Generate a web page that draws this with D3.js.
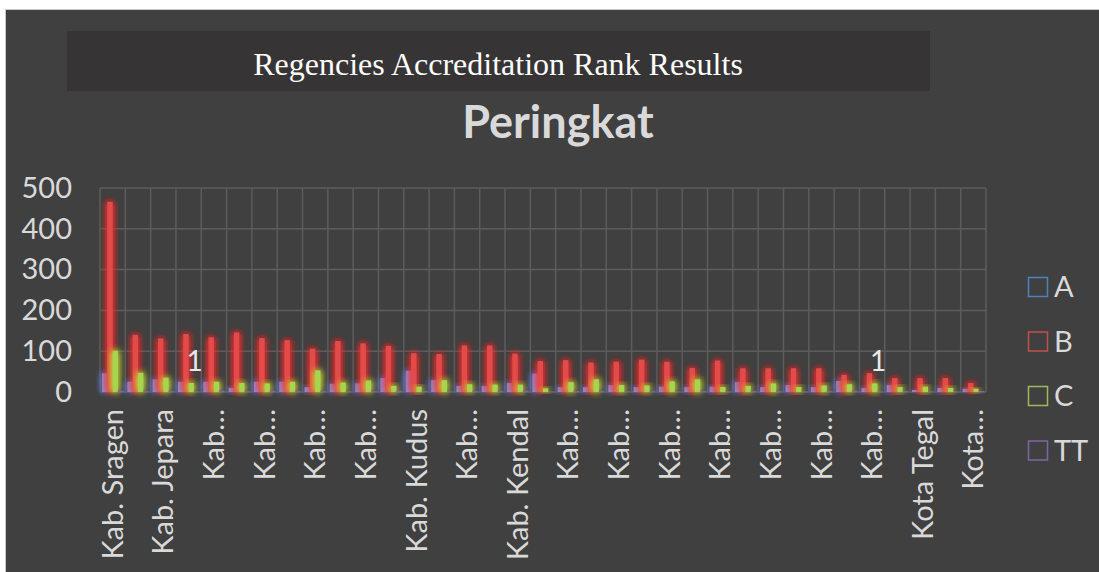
<!DOCTYPE html>
<html>
<head>
<meta charset="utf-8">
<script src="https://cdn.jsdelivr.net/npm/d3@7"></script>
<style>
  html, body { margin: 0; padding: 0; background: #fff; }
  svg { display: block; }
</style>
</head>
<body>
<div id="chart"></div>
<script>
// regencies, in the order of the chart
const regencies = [
  'Kab. Sragen', 'Kab. Klaten', 'Kab. Jepara', 'Kab. Pati', 'Kab. Grobogan',
  'Kab. Demak', 'Kab. Banyumas', 'Kab. Blora', 'Kab. Boyolali', 'Kab. Batang',
  'Kab. Cilacap', 'Kab. Brebes', 'Kab. Kudus', 'Kab. Tegal', 'Kab. Kebumen',
  'Kab. Rembang', 'Kab. Kendal', 'Kab. Wonogiri', 'Kab. Magelang', 'Kab. Pemalang',
  'Kab. Sukoharjo', 'Kab. Semarang', 'Kab. Purworejo', 'Kab. Karanganyar', 'Kab. Wonosobo',
  'Kab. Pekalongan', 'Kab. Temanggung', 'Kota Salatiga', 'Kab. Purbalingga', 'Kota Magelang',
  'Kab. Banjarnegara', 'Kota Pekalongan', 'Kota Tegal', 'Kota Semarang', 'Kota Surakarta'
];
const seriesNames = ['A', 'B', 'C', 'TT'];
const rankA  = [46, 25, 31, 25, 25, 10, 25, 25, 12, 20, 21, 34, 52, 29, 15, 15, 22, 45, 12, 12, 17, 12, 13, 12, 13, 24, 12, 17, 12, 27, 10, 17, 5, 10, 8];
const rankB  = [466, 140, 131, 142, 134, 146, 132, 127, 106, 125, 119, 113, 95, 93, 114, 114, 94, 76, 78, 72, 74, 79, 74, 59, 77, 58, 58, 58, 58, 42, 46, 34, 34, 34, 22];
const rankC  = [101, 47, 35, 22, 25, 22, 21, 25, 53, 23, 28, 15, 13, 29, 19, 18, 18, 9, 24, 31, 17, 16, 26, 31, 12, 15, 21, 12, 16, 19, 21, 12, 13, 10, 8];
const rankTT = [3, 2, 2, 1, 3, 2, 3, 2, 2, 1, 2, 3, 2, 1, 2, 2, 3, 1, 2, 2, 1, 2, 1, 2, 1, 2, 2, 1, 2, 3, 1, 2, 1, 1, 2];
const labelledTT = ['Kab. Pati', 'Kab. Banjarnegara'];
const yTicks = [0, 100, 200, 300, 400, 500];

const width = 1099, height = 572;
const plot = { left: 100, right: 986, top: 188, bottom: 392 };
const colors = { A: '#8d8fd0', B: '#e24c4a', C: '#a6d650', TT: '#8a5fb8' };
const glows = { A: '#5b78d8', B: '#ff2a2a', C: '#c8e030', TT: '#9a55e0' };
const legendStroke = { A: '#4f81bd', B: '#c0504d', C: '#9bbb59', TT: '#8064a2' };
const textColor = '#d9d9d9';
const font = 'Lato, "Open Sans", sans-serif';

const values = { A: rankA, B: rankB, C: rankC, TT: rankTT };

const svg = d3.select('#chart').append('svg')
  .attr('width', width)
  .attr('height', height);

// glow filters
const defs = svg.append('defs');
seriesNames.forEach(s => {
  const f = defs.append('filter')
    .attr('id', 'glow-' + s)
    .attr('x', '-200%').attr('y', '-50%')
    .attr('width', '500%').attr('height', '200%');
  f.append('feFlood').attr('flood-color', glows[s]).attr('result', 'c');
  f.append('feComposite').attr('in', 'c').attr('in2', 'SourceAlpha').attr('operator', 'in').attr('result', 'cs');
  f.append('feGaussianBlur').attr('in', 'cs').attr('stdDeviation', 3.5).attr('result', 'blur');
  const m = f.append('feMerge');
  m.append('feMergeNode').attr('in', 'blur');
  m.append('feMergeNode').attr('in', 'blur');
  m.append('feMergeNode').attr('in', 'SourceGraphic');
});

// frame
svg.append('rect')
  .attr('x', 5.5).attr('y', 9.5)
  .attr('width', width).attr('height', height)
  .attr('fill', '#404040')
  .attr('stroke', '#c8c8c8');

// title box
svg.append('rect')
  .attr('x', 67).attr('y', 31)
  .attr('width', 863).attr('height', 60)
  .attr('fill', '#373435');

svg.append('text')
  .attr('x', 498).attr('y', 75)
  .attr('text-anchor', 'middle')
  .style('font-family', '"Liberation Serif", "Times New Roman", serif')
  .style('font-size', '32px')
  .style('fill', '#ffffff')
  .text('Regencies Accreditation Rank Results');

svg.append('text')
  .attr('x', 558).attr('y', 138)
  .attr('text-anchor', 'middle')
  .style('font-family', font)
  .style('font-weight', 'bold')
  .style('font-size', '45px')
  .style('fill', textColor)
  .text('Peringkat');

// scales
const x0 = d3.scaleBand()
  .domain(regencies)
  .range([plot.left, plot.right])
  .paddingInner(0)
  .paddingOuter(0);

const x1 = d3.scaleBand()
  .domain(seriesNames)
  .range([x0.bandwidth() * 0.08, x0.bandwidth() * 0.92]);

const y = d3.scaleLinear()
  .domain([0, 500])
  .range([plot.bottom, plot.top]);

// gridlines
const grid = svg.append('g')
  .attr('stroke', '#5c5c5c')
  .attr('stroke-width', 1.5);

grid.selectAll('line.h')
  .data(yTicks)
  .join('line')
  .attr('class', 'h')
  .attr('x1', plot.left).attr('x2', plot.right)
  .attr('y1', d => y(d)).attr('y2', d => y(d));

grid.selectAll('line.v')
  .data(regencies.concat(['end']))
  .join('line')
  .attr('class', 'v')
  .attr('x1', (d, i) => i < regencies.length ? x0(d) : plot.right)
  .attr('x2', (d, i) => i < regencies.length ? x0(d) : plot.right)
  .attr('y1', plot.top).attr('y2', plot.bottom);

// y axis
svg.append('g')
  .attr('transform', `translate(${plot.left}, 0)`)
  .call(d3.axisLeft(y).tickValues(yTicks).tickSize(0).tickPadding(28))
  .call(g => g.select('.domain').remove())
  .selectAll('text')
  .style('font-family', font)
  .style('font-size', '29px')
  .style('fill', textColor);

// bars
const groups = svg.append('g')
  .selectAll('g')
  .data(regencies)
  .join('g')
  .attr('transform', d => `translate(${x0(d)}, 0)`);

seriesNames.forEach(s => {
  groups.append('rect')
    .attr('x', x1(s))
    .attr('width', x1.bandwidth())
    .attr('y', (d, i) => y(values[s][i]))
    .attr('height', (d, i) => y(0) - y(values[s][i]))
    .attr('fill', colors[s])
    .attr('filter', `url(#glow-${s})`);
});

// data labels on TT
svg.append('g')
  .selectAll('text')
  .data(labelledTT)
  .join('text')
  .attr('x', d => x0(d) + x1('TT') + x1.bandwidth() / 2 - 2)
  .attr('y', d => y(rankTT[regencies.indexOf(d)]) - 21)
  .attr('text-anchor', 'middle')
  .style('font-family', font)
  .style('font-size', '28px')
  .style('fill', '#e8e8e8')
  .text(d => rankTT[regencies.indexOf(d)]);

// x labels, every other category, long names shortened
const shortName = name => name.length > 11 ? name.split(' ')[0].replace('.', '') + '\u2026' : name;

svg.append('g')
  .selectAll('text')
  .data(regencies.filter((d, i) => i % 2 === 0))
  .join('text')
  .attr('transform', d => `translate(${x0(d) + x0.bandwidth() / 2}, 409) rotate(-90)`)
  .attr('text-anchor', 'end')
  .attr('dy', '0.35em')
  .style('font-family', font)
  .style('font-size', '29px')
  .style('fill', textColor)
  .text(d => shortName(d));

// legend
const legend = svg.append('g')
  .selectAll('g')
  .data(seriesNames)
  .join('g')
  .attr('transform', (d, i) => `translate(1028, ${287 + i * 54.5})`);

legend.append('rect')
  .attr('x', 0.5).attr('y', -9.5)
  .attr('width', 19).attr('height', 19)
  .attr('fill', 'none')
  .attr('stroke', d => legendStroke[d])
  .attr('stroke-width', 1.5);

legend.append('text')
  .attr('x', 26).attr('dy', '0.36em')
  .style('font-family', font)
  .style('font-size', '29px')
  .style('fill', textColor)
  .text(d => d);
</script>
</body>
</html>
